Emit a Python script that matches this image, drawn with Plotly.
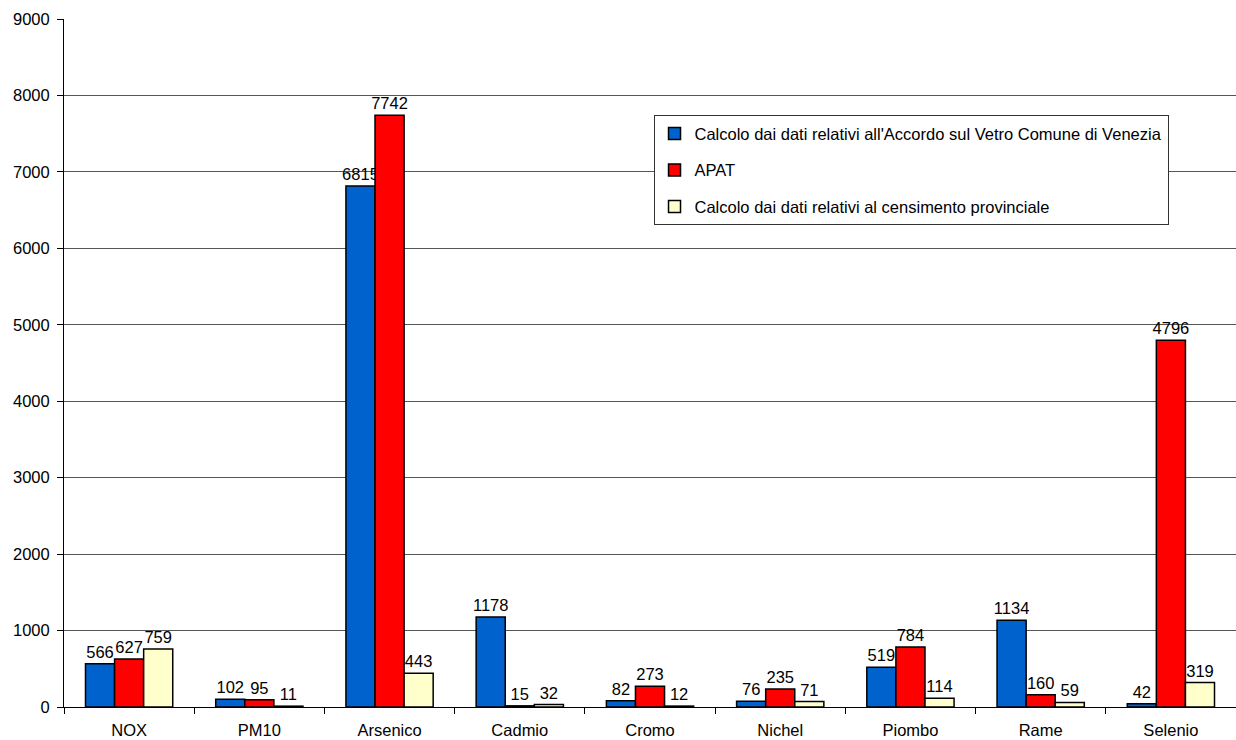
import plotly.graph_objects as go

categories = ["NOX", "PM10", "Arsenico", "Cadmio", "Cromo", "Nichel", "Piombo", "Rame", "Selenio"]

accordo_vetro = [566, 102, 6815, 1178, 82, 76, 519, 1134, 42]
apat = [627, 95, 7742, 15, 273, 235, 784, 160, 4796]
censimento = [759, 11, 443, 32, 12, 71, 114, 59, 319]

series = [
    ("Calcolo dai dati relativi all'Accordo sul Vetro Comune di Venezia", accordo_vetro, "#0062CC"),
    ("APAT", apat, "#FF0000"),
    ("Calcolo dai dati relativi al censimento provinciale", censimento, "#FFFFCC"),
]

FONT = "Arial, Liberation Sans, sans-serif"
FS = 16.5

fig = go.Figure()
for i, (name, vals, color) in enumerate(series):
    fig.add_trace(go.Bar(
        name=name,
        x=categories,
        y=vals,
        marker=dict(color=color, line=dict(color="black", width=1.5)),
        text=[str(v) for v in vals],
        textposition="outside",
        textfont=dict(family=FONT, size=FS, color="black"),
        constraintext="none",
        cliponaxis=False,
        legendgroup=f"g{i}",
    ))

fig.update_layout(
    width=1236,
    height=740,
    margin=dict(l=64, r=0, t=19, b=33),
    paper_bgcolor="white",
    plot_bgcolor="white",
    barmode="group",
    bargap=0.33,
    bargroupgap=0,
    font=dict(family=FONT, size=FS, color="black"),
    legend=dict(
        x=0.503, y=0.86, xanchor="left", yanchor="top",
        bgcolor="white", bordercolor="#333333", borderwidth=1,
        font=dict(family=FONT, size=FS, color="black"),
        tracegroupgap=12,
    ),
    showlegend=True,
)

fig.update_xaxes(
    showline=True, linecolor="black", linewidth=1,
    ticks="outside", ticklen=6, tickcolor="black", tickson="boundaries",
    ticklabelstandoff=8,
    tickfont=dict(family=FONT, size=FS, color="black"),
    showgrid=False,
)
fig.update_yaxes(
    range=[0, 9000], dtick=1000,
    showline=True, linecolor="black", linewidth=1,
    ticks="outside", ticklen=6, tickcolor="black",
    ticklabelstandoff=4,
    showgrid=True, gridcolor="#555555", gridwidth=1,
    tickfont=dict(family=FONT, size=FS, color="black"),
    zeroline=False,
)

fig.write_html("out.html")
